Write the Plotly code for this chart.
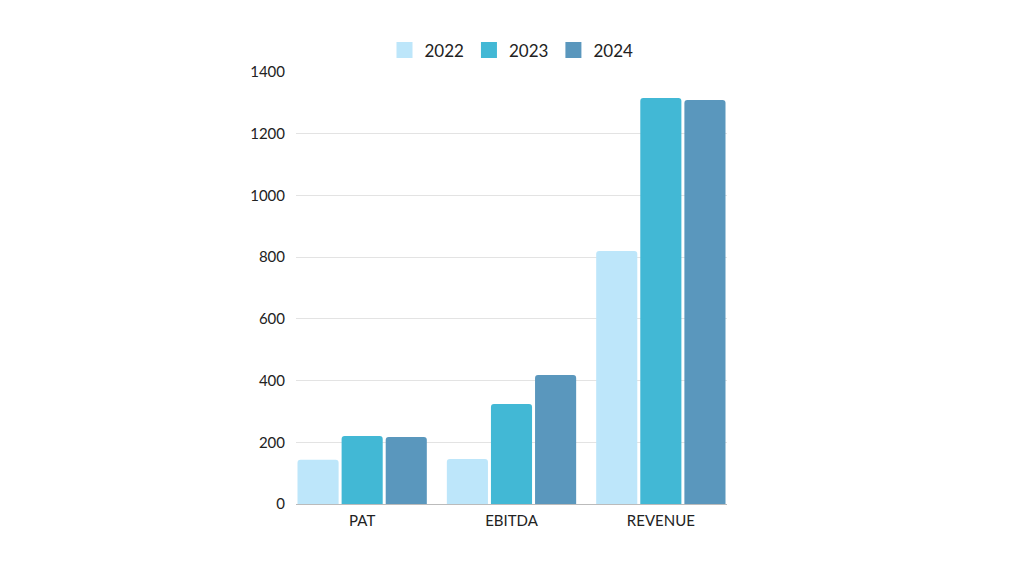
import plotly.graph_objects as go

# data
categories = ["PAT", "EBITDA", "REVENUE"]
years = ["2022", "2023", "2024"]
values_2022 = [143, 146, 820]
values_2023 = [220, 324, 1316]
values_2024 = [217, 418, 1309]
colors = ["#BDE6FA", "#42B8D5", "#5A97BD"]

fig = go.Figure()
for year, vals, col in zip(years, [values_2022, values_2023, values_2024], colors):
    fig.add_trace(go.Bar(
        x=categories, y=vals, name=year, showlegend=False,
        marker=dict(color=col, line=dict(width=0), cornerradius=3),
    ))
    # square legend swatch
    fig.add_trace(go.Scatter(
        x=[None], y=[None], mode="markers", name=year,
        marker=dict(symbol="square", size=16, color=col),
    ))

fig.update_layout(
    width=1024, height=576,
    paper_bgcolor="white", plot_bgcolor="white",
    barmode="group", bargap=0.114, bargroupgap=0.068,
    margin=dict(l=288, r=305, t=64, b=80),
    font=dict(family="Lato", size=15, color="#222222"),
    legend=dict(
        orientation="h", x=0.5, xanchor="center", y=1.05, yanchor="middle",
        font=dict(size=17, color="#222222"), itemsizing="trace",
        traceorder="normal", itemwidth=30,
    ),
    xaxis=dict(
        range=[-0.443, 2.443],
        showline=True, linecolor="#BBBBBB", linewidth=1,
        ticks="", tickfont=dict(size=15), ticklabelstandoff=3,
    ),
    yaxis=dict(
        range=[0, 1400], dtick=200, showgrid=True, gridcolor="#E3E3E3",
        zeroline=False, showline=False, ticks="",
        tickfont=dict(size=15), ticklabelstandoff=10,
    ),
)

fig.write_html("out.html")
